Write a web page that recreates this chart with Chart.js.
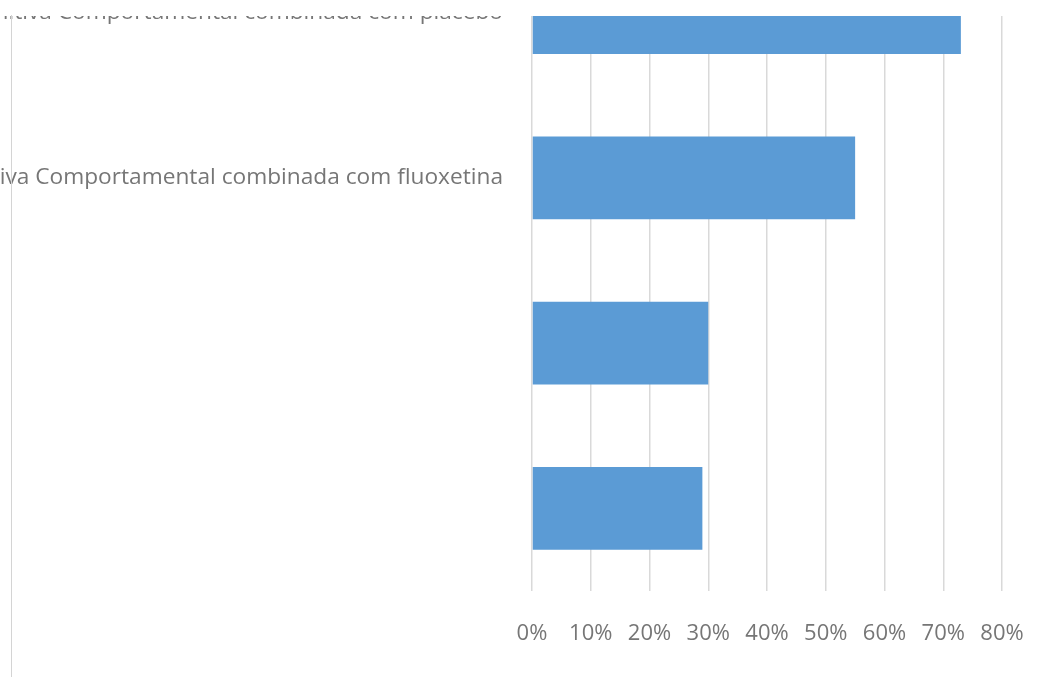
<!DOCTYPE html>
<html>
<head>
<meta charset="utf-8">
<script src="https://cdn.jsdelivr.net/npm/chart.js@4.4.0/dist/chart.umd.min.js"></script>
<style>
    html, body { margin: 0; padding: 0; background: #fff; overflow: hidden; }
    body { width: 1038px; height: 677px; position: relative; }
    #wrap { position: absolute; left: -300px; top: -70px; width: 1338px; height: 730px; }
    #cover { position: absolute; left: 0; top: 0; width: 1038px; height: 16px; background: #fff; }
    #edge { position: absolute; left: 11px; top: 15px; width: 0; height: 662px; border-left: 1px solid #d4d4d4; }
</style>
</head>
<body>
<div id="wrap"><canvas id="myChart" width="1338" height="730"></canvas></div>
<div id="cover"></div>
<div id="edge"></div>
<script>
// dados (de cima para baixo)
const categorias = [
    'Terapia Cognitiva Comportamental combinada com placebo',
    'Terapia Cognitiva Comportamental combinada com fluoxetina',
    '',
    ''
];
const valores = [73, 55, 30, 29];
const ticksX = ['0%', '10%', '20%', '30%', '40%', '50%', '60%', '70%', '80%'];

document.addEventListener('DOMContentLoaded', (event) => {
    const ctx = document.getElementById('myChart').getContext('2d');
    const myChart = new Chart(ctx, {
        type: 'bar',
        data: {
            labels: categorias,
            datasets: [{
                data: valores,
                backgroundColor: '#5b9bd5',
                borderWidth: 0,
                barPercentage: 0.5,
                categoryPercentage: 1.0
            }]
        },
        options: {
            indexAxis: 'y',
            responsive: false,
            animation: false,
            layout: { padding: 0 },
            scales: {
                x: {
                    min: 0,
                    max: 80,
                    border: { display: false },
                    grid: { color: '#d9d9d9', lineWidth: 1.5, drawTicks: false },
                    ticks: {
                        stepSize: 10,
                        padding: 30,
                        color: '#767676',
                        font: { family: 'Open Sans', size: 22 },
                        callback: (v, i) => ticksX[i]
                    },
                    afterFit: (scale) => {
                        scale.height = 69;
                        scale.paddingRight = 36;
                        scale.paddingLeft = 0;
                    }
                },
                y: {
                    border: { display: false },
                    grid: { display: false, drawTicks: false },
                    ticks: {
                        padding: 29,
                        color: '#767676',
                        font: { family: 'Open Sans', size: 22.7 }
                    },
                    afterFit: (scale) => {
                        scale.width = 832;
                        scale.paddingTop = 0;
                        scale.paddingBottom = 0;
                    }
                }
            },
            plugins: {
                legend: { display: false },
                tooltip: { enabled: false }
            }
        }
    });
});
</script>
</body>
</html>
